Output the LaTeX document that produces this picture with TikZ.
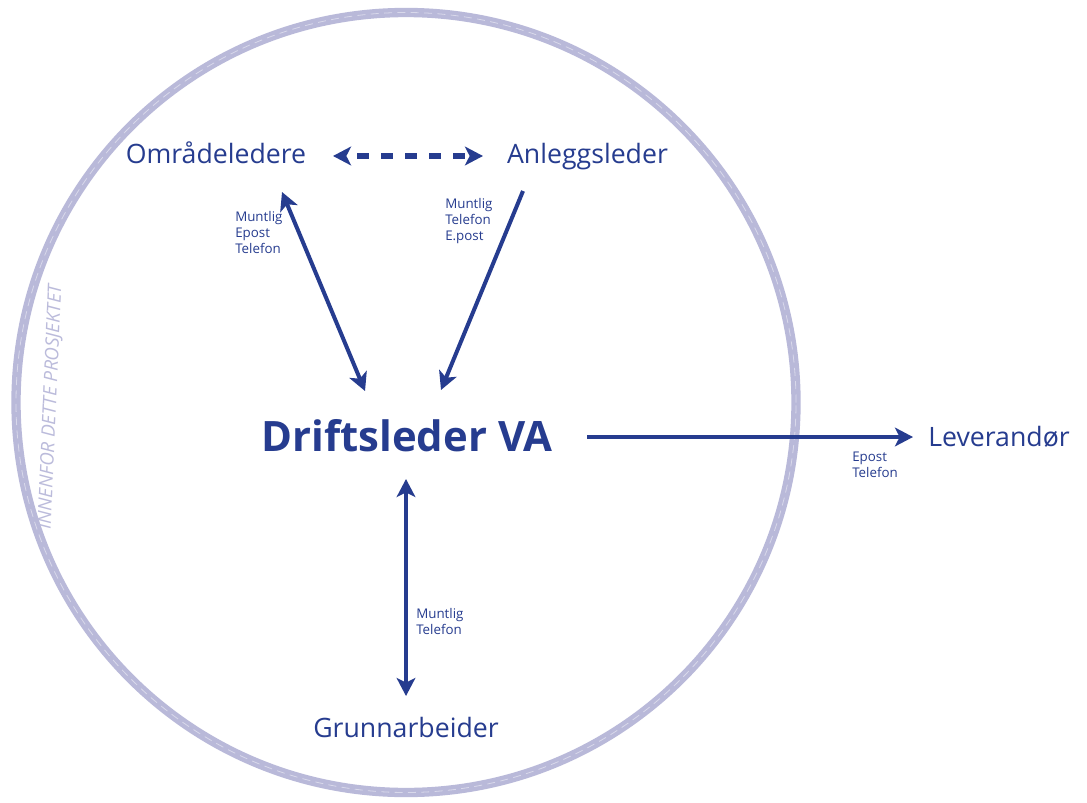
\documentclass[tikz,border=0pt]{standalone}
\usepackage{fontspec}
\setmainfont{Open Sans}
\usetikzlibrary{arrows.meta}

\definecolor{navy}{HTML}{263C8F}
\definecolor{ringcol}{HTML}{B9B9D9}
\definecolor{ringtext}{HTML}{BBBBDB}

\begin{document}
\begin{tikzpicture}[x=0.75pt,y=-0.75pt,
  role/.style={text=navy, font=\fontsize{20}{24}\selectfont, inner sep=0pt, anchor=base},
  chief/.style={text=navy, font=\fontsize{31.4}{36}\selectfont\bfseries, inner sep=0pt, anchor=base},
  channel/.style={text=navy, font=\fontsize{10}{12}\selectfont, align=left, anchor=west, inner sep=0pt},
  link/.style={draw=navy, line width=3pt},
  both/.style={link, {Stealth[length=13.5pt, width=14pt, inset=3.5pt]}-{Stealth[length=13.5pt, width=14pt, inset=3.5pt]}},
  one/.style={link, -{Stealth[length=13.5pt, width=14pt, inset=3.5pt]}},
  peer/.style={draw=navy, line width=3.8pt, dash pattern=on 9pt off 9pt, dash phase=-9pt,
    {Stealth[length=13.5pt, width=14pt, inset=3.5pt]}-{Stealth[length=13.5pt, width=14pt, inset=3.5pt]}},
  boundary/.style={draw=ringcol, line width=7pt},
  seam/.style={draw=white, opacity=0.45, line width=0.6pt, dash pattern=on 6pt off 4pt}
]
\fill[white] (0,0) rectangle (1087,802);
\useasboundingbox (0,0) rectangle (1087,802);

% project boundary
\draw[boundary] (406,402.5) circle[radius=292.5pt];
\draw[seam] (406,402.5) circle[radius=292.5pt];
\node[rotate=87.5, text=ringtext, font=\fontsize{14}{16}\selectfont\itshape, inner sep=0pt]
  (scope) at (51,407) {INNENFOR DETTE PROSJEKTET};

% roles
\node[role]  (omr)   at (216,164) {Områdeledere};
\node[role]  (anl)   at (587.5,164) {Anleggsleder};
\node[chief] (drift) at (407,451) {Driftsleder VA};
\node[role]  (lev)   at (999,446) {Leverandør};
\node[role]  (grunn) at (406,737) {Grunnarbeider};

% connector ends
\coordinate (omr-r)    at (333,156);
\coordinate (anl-l)    at (483,156);
\coordinate (omr-s)    at (282,192);
\coordinate (anl-s)    at (523,191);
\coordinate (drift-nw) at (365,391);
\coordinate (drift-ne) at (441,390);
\coordinate (drift-s)  at (406,479);
\coordinate (drift-e)  at (587,437);
\coordinate (grunn-n)  at (406,696);
\coordinate (lev-w)    at (913,437);

% connectors
\draw[peer] (omr-r) -- (anl-l);
\draw[both] (omr-s) -- (drift-nw);
\draw[one]  (anl-s) -- (drift-ne);
\draw[both] (drift-s) -- (grunn-n);
\draw[one]  (drift-e) -- (lev-w);

% channel labels
\node[channel] (c1) at (235,232) {Muntlig\\Epost\\Telefon};
\node[channel] (c2) at (445,221) {Muntlig\\Telefon\\E.post};
\node[channel] (c3) at (852,465) {Epost\\Telefon};
\node[channel] (c4) at (416,621) {Muntlig\\Telefon};
\end{tikzpicture}
\end{document}
